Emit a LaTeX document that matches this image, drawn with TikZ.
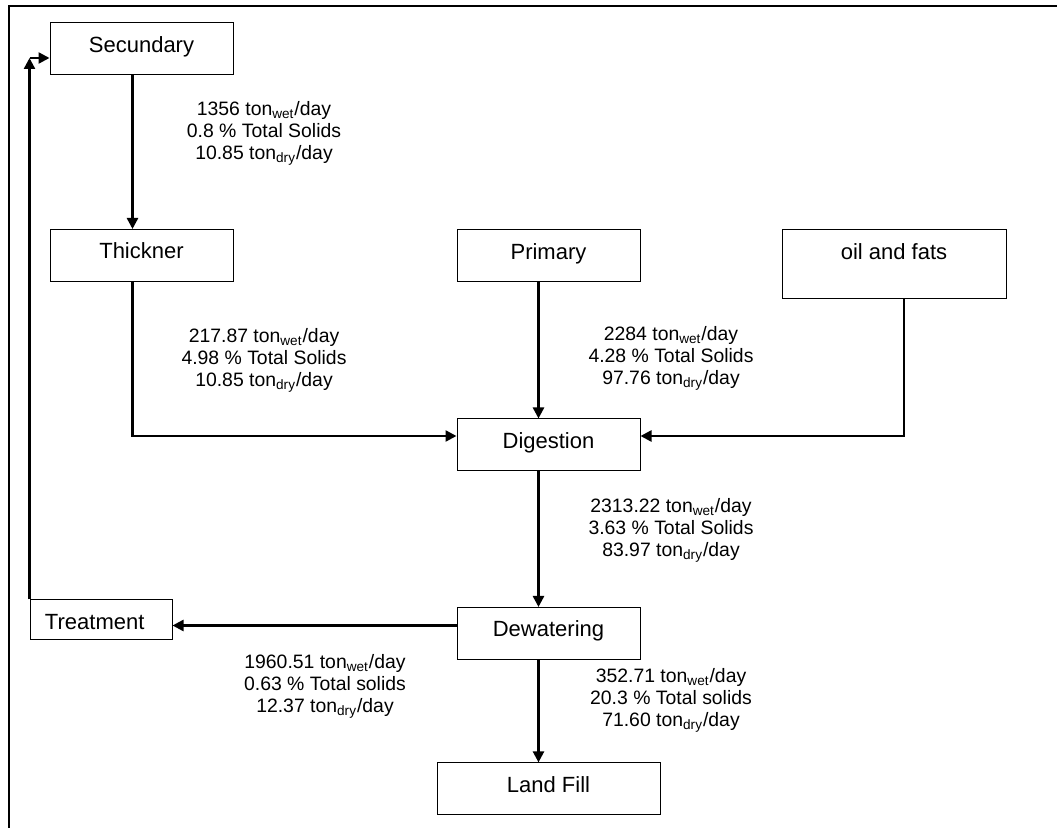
\documentclass[tikz,border=0pt]{standalone}
\usepackage{fontspec}
\setmainfont{Liberation Sans}
\usetikzlibrary{arrows.meta}

\begin{document}
\begin{tikzpicture}[x=0.5pt,y=-0.5pt,
		box/.style={draw, line width=0.5pt, inner xsep=0pt, inner ysep=0pt, minimum width=91.5pt,
			text height=14.6pt, text depth=11.4pt, font=\fontsize{11}{13}\selectfont},
		lbl/.style={align=center, inner sep=0pt, font=\fontsize{9.7}{11}\selectfont},
		flow/.style={line width=1.2pt, -{Triangle[length=5.5pt,width=5.5pt]}}]
				\useasboundingbox (0,0) rectangle (1057,828);
				\draw [line width=1pt] (9,828) -- (9,6) -- (1057,6);
				\node [box] (sec) at (141.5,49) {Secundary};
				\node [box] (thick) at (141.5,255.5) {Thickner};
				\node [box] (prim) at (548.5,256) {Primary};
				\node [box, minimum width=112pt, text depth=19.9pt] (oil) at (894,264.5) {oil and fats};
				\node [box] (dig) at (548.5,445) {Digestion};
				\node [box] (dew) at (548.5,633.5) {Dewatering};
				\node [box, minimum width=111.5pt, text depth=11pt] (land) at (548.5,788.5) {Land Fill};
				\node [box, minimum width=71pt, inner xsep=7.5pt, text width=56pt, align=left,
					text depth=5.4pt] (treat) at (101,620) {Treatment};
				\node [lbl] (secflow) at (264,133) {1356 ton\textsubscript{wet}/day\\0.8 \% Total Solids\\10.85 ton\textsubscript{dry}/day};
				\node [lbl] (thickflow) at (264,360) {217.87 ton\textsubscript{wet}/day\\4.98 \% Total Solids\\10.85 ton\textsubscript{dry}/day};
				\node [lbl] (primflow) at (671,358) {2284 ton\textsubscript{wet}/day\\4.28 \% Total Solids\\97.76 ton\textsubscript{dry}/day};
				\node [lbl] (digflow) at (671,530) {2313.22 ton\textsubscript{wet}/day\\3.63 \% Total Solids\\83.97 ton\textsubscript{dry}/day};
				\node [lbl] (treatflow) at (325,686) {1960.51 ton\textsubscript{wet}/day\\0.63 \% Total solids\\12.37 ton\textsubscript{dry}/day};
				\node [lbl] (fillflow) at (671,700) {352.71 ton\textsubscript{wet}/day\\20.3 \% Total solids\\71.60 ton\textsubscript{dry}/day};
				\draw [flow] ([xshift=-4.5pt]sec.south) -- ([xshift=-4.5pt]thick.north);
				\draw [flow] ([xshift=-4.5pt]thick.south) |- ([yshift=4.5pt]dig.west);
				\draw [flow] ([xshift=-5pt]prim.south) -- ([xshift=-5pt]dig.north);
				\draw [flow] ([xshift=5pt]oil.south) |- ([yshift=4.5pt]dig.east);
				\draw [flow] ([xshift=-5pt]dig.south) -- ([xshift=-5pt]dew.north);
				\draw [flow] ([xshift=-5pt]dew.south) -- ([xshift=-5pt]land.north);
				\coordinate (dewout) at ([yshift=4pt]dew.west);
				\draw [flow] (dewout) -- (dewout -| treat.east);
				\coordinate (back) at ([yshift=-4.5pt]sec.west -| treat.north west);
				\draw [flow] (treat.north west) -- (back);
				\draw [flow] (back) -- ([yshift=-4.5pt]sec.west);
			\end{tikzpicture}
\end{document}
